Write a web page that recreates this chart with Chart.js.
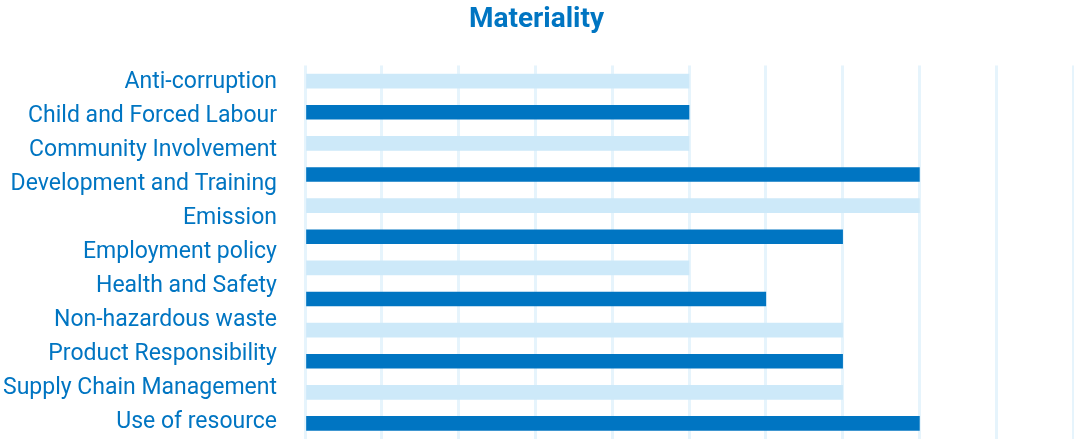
<!DOCTYPE html>
<html>
<head>
<meta charset="utf-8">
<script src="https://cdn.jsdelivr.net/npm/chart.js@4/dist/chart.umd.min.js"></script>
<style>
  html, body { margin: 0; padding: 0; background: #fff; }
  #wrap { width: 1074px; height: 439px; }
</style>
</head>
<body>
<div id="wrap"><canvas id="chart"></canvas></div>
<script>
const TITLE = "Materiality";

const topics = [
  "Anti-corruption",
  "Child and Forced Labour",
  "Community Involvement",
  "Development and Training",
  "Emission",
  "Employment policy",
  "Health and Safety",
  "Non-hazardous waste",
  "Product Responsibility",
  "Supply Chain Management",
  "Use of resource",
];

// the bars sit on their own 12-slot axis, not lined up with the topic labels
const barSlots = ["1", "2", "3", "4", "5", "6", "7", "8", "9", "10", "11", "12"];
const scores = [5, 5, 5, 8, 8, 7, 5, 6, 7, 7, 7, 8];

const BLUE = "#0075c2";
const LIGHT = "#cde9f9";
const GRID = "#e6f4fc";

new Chart(document.getElementById("chart"), {
  type: "bar",
  data: {
    labels: barSlots,
    datasets: [
      {
        data: scores,
        backgroundColor: (ctx) => (ctx.dataIndex % 2 === 0 ? LIGHT : BLUE),
        borderWidth: 0,
        barThickness: 14,
      },
    ],
  },
  options: {
    indexAxis: "y",
    responsive: true,
    maintainAspectRatio: false,
    animation: false,
    // chart runs off the bottom edge in the original
    layout: { padding: { left: 0, right: 1, bottom: -3, top: 0 } },
    plugins: {
      legend: { display: false },
      tooltip: { enabled: false },
      title: {
        display: true,
        text: TITLE,
        color: BLUE,
        font: { family: "Roboto", size: 28, weight: "bold" },
        padding: { top: 3, bottom: 29 },
      },
    },
    scales: {
      x: {
        min: 0,
        max: 10,
        ticks: { display: false, stepSize: 1 },
        grid: { color: GRID, lineWidth: 3, drawTicks: false },
        border: { display: false },
      },
      y: {
        display: false,
        offset: true,
      },
      topicAxis: {
        type: "category",
        labels: topics,
        position: "left",
        offset: true,
        grid: { display: false, drawTicks: false },
        border: { display: false },
        ticks: {
          color: BLUE,
          padding: 28,
          autoSkip: false,
          font: { family: "Roboto", size: 23 },
        },
        afterFit: (scale) => {
          scale.width = 305;
          scale.paddingTop = 0;
          scale.paddingBottom = 0;
        },
      },
    },
  },
});
</script>
</body>
</html>
